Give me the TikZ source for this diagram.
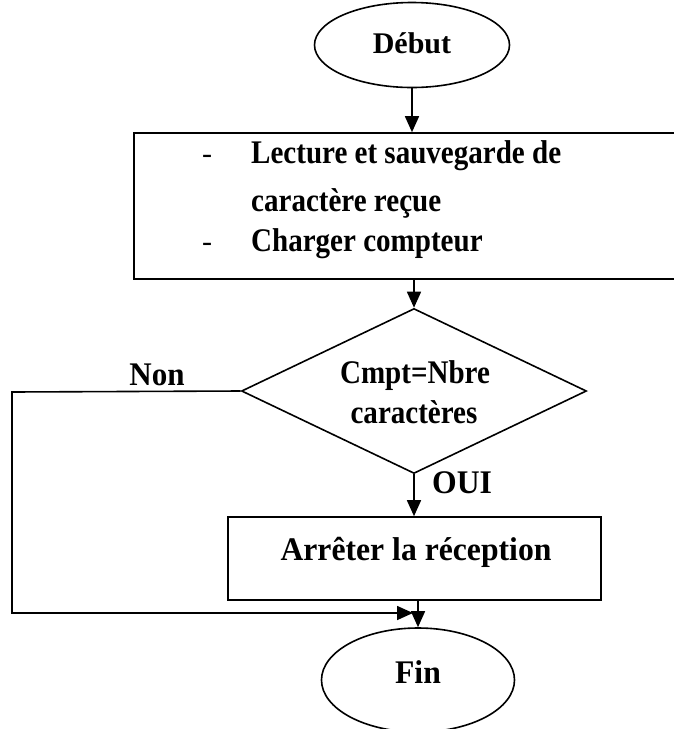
\documentclass[tikz,border=0pt]{standalone}
\usepackage{fontspec}
\usepackage{graphicx}
\setmainfont{Liberation Serif}
\usetikzlibrary{shapes.geometric,arrows.meta}
% narrow bold setting used for the labels
\newcommand{\narrow}[2]{\scalebox{#1}[1]{#2}}
\begin{document}
\begin{tikzpicture}[x=1pt,y=-1pt,
  flow/.style={line width=1.6pt},
  arr/.style={flow,-{Triangle[length=16pt,width=14pt]}},
  terminal/.style={draw,flow,ellipse,inner sep=0pt},
  process/.style={draw,flow,rectangle,inner sep=0pt},
  decision/.style={draw,flow,diamond,inner sep=0pt},
  txt/.style={inner sep=0pt,font=\bfseries\fontsize{33}{38}\selectfont},
  bullet/.style={inner sep=0pt,font=\fontsize{30}{36}\selectfont},
  big/.style={inner sep=0pt,font=\bfseries\fontsize{33}{38}\selectfont},
  small/.style={inner sep=0pt,font=\bfseries\fontsize{30}{36}\selectfont}]
  \useasboundingbox (0,0) rectangle (674,729);

  % start / end terminals
  \node[terminal,minimum width=195pt,minimum height=85pt] (debut) at (412,45) {};
  \node[small,anchor=base] (tdebut) at (412,53) {Début};
  \node[terminal,minimum width=193pt,minimum height=104pt] (fin) at (418,680) {};
  \node[big,anchor=base] (tfin) at (418,683) {\narrow{0.96}{Fin}};

  % first processing block (runs past the right edge)
  \node[process,minimum width=566pt,minimum height=146pt] (box1) at (417,206) {};
  \node[bullet,anchor=base] (d1) at (207,163) {-};
  \node[txt,anchor=base west] (l1) at (251,163) {\narrow{0.88}{Lecture et sauvegarde de}};
  \node[txt,anchor=base west] (l2) at (251,211) {\narrow{0.88}{caractère reçue}};
  \node[bullet,anchor=base] (d2) at (207,251) {-};
  \node[txt,anchor=base west] (l3) at (251,251) {\narrow{0.88}{Charger compteur}};

  % test on the counter
  \node[decision,minimum width=345pt,minimum height=165pt] (dec) at (414,391) {};
  \node[txt,anchor=base] (c1) at (415,383) {\narrow{0.88}{Cmpt=Nbre}};
  \node[txt,anchor=base] (c2) at (414,423) {\narrow{0.88}{caractères}};

  % stop block
  \node[process,minimum width=373pt,minimum height=83pt] (box2) at (414.5,558.5) {};
  \node[big,anchor=base] (tbox2) at (416,560) {\narrow{0.96}{Arrêter la réception}};

  % branch labels
  \node[big,anchor=base] (non) at (157,385) {\narrow{0.94}{Non}};
  \node[big,anchor=base west] (oui) at (432,493) {\narrow{0.96}{OUI}};

  % connectors
  \coordinate (c0) at (12,392);
  \coordinate (c1b) at (12,613);
  \coordinate (join) at (413,613);
  \draw[arr] (debut.south) -- (debut.south |- box1.north);
  \draw[arr] (dec.north |- box1.south) -- (dec.north);
  \draw[arr] (dec.south) -- (dec.south |- box2.north);
  \draw[arr] (fin.north |- box2.south) -- (fin.north);
  \draw[arr] (dec.west) -- (c0) -- (c1b) -- (join);
\end{tikzpicture}
\end{document}
